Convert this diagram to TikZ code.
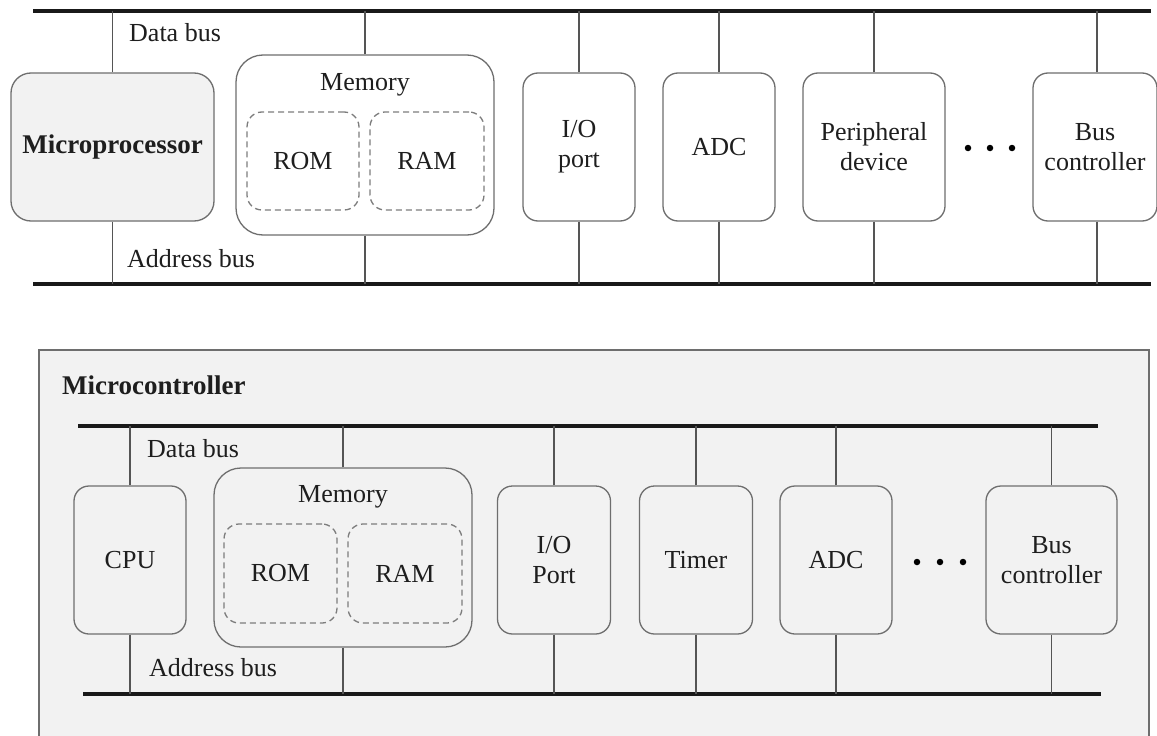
\documentclass[tikz,border=0pt]{standalone}
\usepackage{fontspec}
\setmainfont{Liberation Serif}
\definecolor{boxline}{HTML}{6E6E6E}
\definecolor{wire}{HTML}{555555}
\definecolor{panel}{HTML}{F2F2F2}
\definecolor{ink}{HTML}{1E1E1E}
\tikzset{
  unit/.style={draw=boxline, line width=1.3pt, rounded corners=15pt, inner sep=0pt,
    align=center, text=ink},
  membox/.style={unit, rounded corners=27pt},
  chip/.style={dashed, draw=boxline!90, line width=1.3pt, dash pattern=on 6pt off 4pt,
    rounded corners=15pt, inner sep=0pt, text=ink},
  bus/.style={line width=3.5pt, draw=black!90},
  link/.style={line width=1.2pt, draw=wire},
  lbl/.style={text=ink, inner sep=0pt, anchor=west},
  dot/.style={circle, fill=black, inner sep=0pt, minimum size=6.5pt},
  heavy/.style={font=\fontsize{27}{31}\selectfont\bfseries},
}
\begin{document}
\begin{tikzpicture}[x=1pt, y=-1pt, font=\fontsize{26}{30}\selectfont]
\useasboundingbox (0,0) rectangle (1157,736);
\clip (0,0) rectangle (1157,736);
\fill[white] (0,0) rectangle (1157,736);

% ---------- microprocessor system ----------
\coordinate (db1) at (33,11);
\coordinate (db2) at (1151,11);
\coordinate (ab1) at (33,284);
\coordinate (ab2) at (1151,284);
\draw[bus] (db1) -- (db2);
\draw[bus] (ab1) -- (ab2);

\node[unit, heavy, fill=panel, rounded corners=20pt, minimum width=203pt, minimum height=148pt]
  (mp) at (112.5,147) {Microprocessor};
\node[membox, fill=white, minimum width=258pt, minimum height=180pt] (mem) at (365,145) {};
\node[text=ink, inner sep=0pt] (memt) at (365,85) {Memory};
\node[chip, minimum width=112pt, minimum height=98pt] (rom) at (303,161) {ROM};
\node[chip, minimum width=114pt, minimum height=98pt] (ram) at (427,161) {RAM};
\node[unit, fill=white, minimum width=112pt, minimum height=148pt] (io) at (579,147) {I/O\\port};
\node[unit, fill=white, minimum width=112pt, minimum height=148pt] (adc) at (719,147) {ADC};
\node[unit, fill=white, minimum width=142pt, minimum height=148pt] (per) at (874,147) {Peripheral\\device};
\node[unit, fill=white, minimum width=124pt, minimum height=148pt] (bc) at (1095,147) {Bus\\controller};
\node[dot] (d1) at (968,148) {};
\node[dot] (d2) at (990,148) {};
\node[dot] (d3) at (1012,148) {};

\foreach \n in {mp,mem,io,adc,per}{
  \draw[link] (\n.north) -- (\n.north |- db1);
  \draw[link] (\n.south) -- (\n.south |- ab1);
}
\draw[link] ([xshift=2pt]bc.north) -- ([xshift=2pt]bc.north |- db1);
\draw[link] ([xshift=2pt]bc.south) -- ([xshift=2pt]bc.south |- ab1);

\node[lbl] (dbl) at (129,33) {Data bus};
\node[lbl] (abl) at (127,259) {Address bus};

% ---------- microcontroller ----------
\draw[draw=boxline, line width=2pt, fill=panel] (39,350) rectangle (1149,760);
\node[lbl, heavy] (mcl) at (62,385) {Microcontroller};

\coordinate (cdb1) at (78,426);
\coordinate (cdb2) at (1098,426);
\coordinate (cab1) at (83,694);
\coordinate (cab2) at (1101,694);
\draw[bus] (cdb1) -- (cdb2);
\draw[bus] (cab1) -- (cab2);

\node[unit, fill=panel, minimum width=112pt, minimum height=148pt] (cpu) at (130,560) {CPU};
\node[membox, fill=panel, minimum width=258pt, minimum height=179pt] (mem2) at (343,557.5) {};
\node[text=ink, inner sep=0pt] (mem2t) at (343,497) {Memory};
\node[chip, minimum width=113pt, minimum height=99pt] (rom2) at (280.5,573.5) {ROM};
\node[chip, minimum width=114pt, minimum height=99pt] (ram2) at (405,573.5) {RAM};
\node[unit, fill=panel, minimum width=113pt, minimum height=148pt] (io2) at (554,560) {I/O\\Port};
\node[unit, fill=panel, minimum width=113pt, minimum height=148pt] (tmr) at (696,560) {Timer};
\node[unit, fill=panel, minimum width=112pt, minimum height=148pt] (adc2) at (836,560) {ADC};
\node[unit, fill=panel, minimum width=131pt, minimum height=148pt] (bc2) at (1051.5,560) {Bus\\controller};
\node[dot] (e1) at (917,562) {};
\node[dot] (e2) at (940,562) {};
\node[dot] (e3) at (963,562) {};

\foreach \n in {cpu,mem2,io2,tmr,adc2,bc2}{
  \draw[link] (\n.north) -- (\n.north |- cdb1);
  \draw[link] (\n.south) -- (\n.south |- cab1);
}

\node[lbl] (cdbl) at (147,449) {Data bus};
\node[lbl] (cabl) at (149,668) {Address bus};
\end{tikzpicture}
\end{document}
